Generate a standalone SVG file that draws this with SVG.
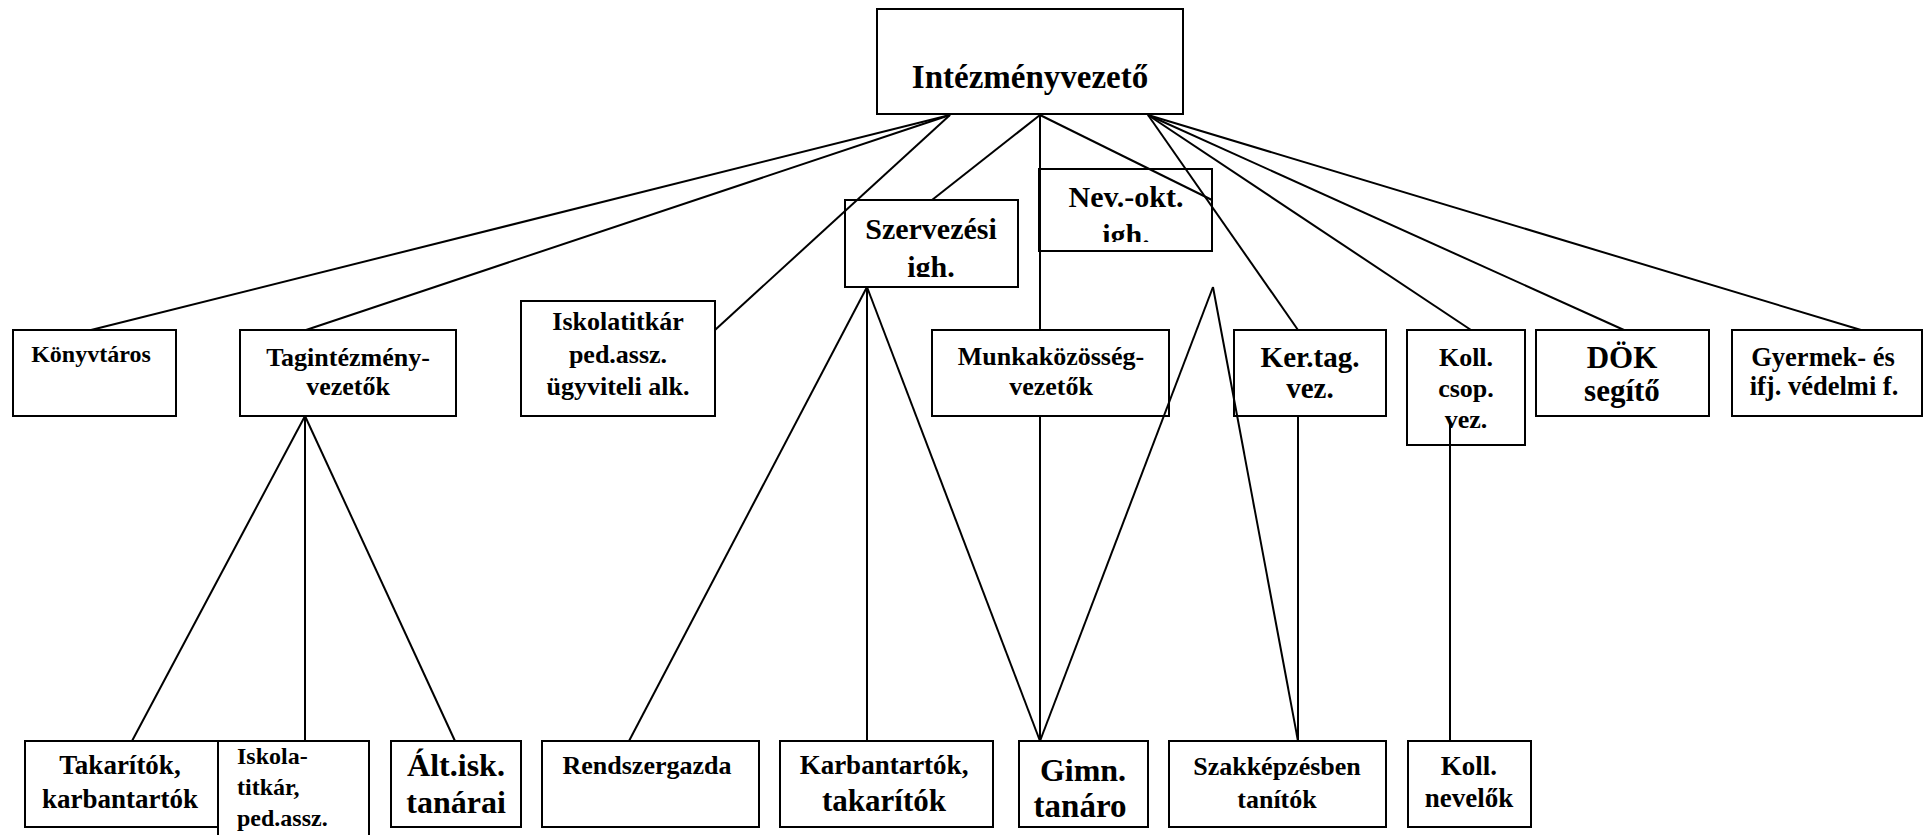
<svg xmlns="http://www.w3.org/2000/svg" width="1927" height="835" viewBox="0 0 1927 835">
<style>
.box{fill:#fff;stroke:#000;stroke-width:2}
.t{font-family:"Liberation Serif","Times New Roman",serif;font-weight:bold;text-anchor:middle;fill:#000}
.l{font-family:"Liberation Serif","Times New Roman",serif;font-weight:bold;text-anchor:start;fill:#000}
#connectors line{stroke:#000;stroke-width:2;fill:none}
</style>
<defs>
<clipPath id="clipSz"><rect x="845" y="200" width="173" height="77"/></clipPath>
<clipPath id="clipNev"><rect x="1039" y="169" width="173" height="73"/></clipPath>
<clipPath id="clipGimn"><rect x="1019" y="741" width="129" height="86"/></clipPath>
</defs>
<rect width="1927" height="835" fill="#fff"/>

<g id="n-intezmenyvezeto"><rect class="box" x="877" y="9" width="306" height="105"/><text class="t" x="1030" y="88" font-size="33">Intézményvezető</text></g>
<g id="n-szervezesi"><rect class="box" x="845" y="200" width="173" height="87"/><g clip-path="url(#clipSz)"><text class="t" x="931" y="239" font-size="30">Szervezési</text><text class="t" x="931" y="277" font-size="30">igh.</text></g></g>
<g id="n-nevokt"><rect class="box" x="1039" y="169" width="173" height="82"/><g clip-path="url(#clipNev)"><text class="t" x="1126" y="207" font-size="30">Nev.-okt.</text><text class="t" x="1126" y="245" font-size="30">igh.</text></g></g>

<g id="n-konyvtaros"><rect class="box" x="13" y="330" width="163" height="86"/><text class="t" x="91" y="362" font-size="24">Könyvtáros</text></g>
<g id="n-tagintezmeny"><rect class="box" x="240" y="330" width="216" height="86"/><text class="t" x="348" y="366" font-size="26">Tagintézmény-</text><text class="t" x="348" y="395" font-size="26">vezetők</text></g>
<g id="n-iskolatitkar"><rect class="box" x="521" y="301" width="194" height="115"/><text class="t" x="618" y="330" font-size="26">Iskolatitkár</text><text class="t" x="618" y="363" font-size="26">ped.assz.</text><text class="t" x="618" y="395" font-size="26">ügyviteli alk.</text></g>
<g id="n-munkakozosseg"><rect class="box" x="932" y="330" width="237" height="86"/><text class="t" x="1051" y="365" font-size="26">Munkaközösség-</text><text class="t" x="1051" y="395" font-size="26">vezetők</text></g>
<g id="n-kertag"><rect class="box" x="1234" y="330" width="152" height="86"/><text class="t" x="1310" y="367" font-size="29">Ker.tag.</text><text class="t" x="1310" y="398" font-size="29">vez.</text></g>
<g id="n-kollcsop"><rect class="box" x="1407" y="330" width="118" height="115"/><text class="t" x="1466" y="366" font-size="26">Koll.</text><text class="t" x="1466" y="397" font-size="26">csop.</text><text class="t" x="1466" y="428" font-size="26">vez.</text></g>
<g id="n-dok"><rect class="box" x="1536" y="330" width="173" height="86"/><text class="t" x="1622" y="368" font-size="31">DÖK</text><text class="t" x="1622" y="401" font-size="31">segítő</text></g>
<g id="n-gyermek"><rect class="box" x="1732" y="330" width="190" height="86"/><text class="t" x="1823" y="366" font-size="26.5">Gyermek- és</text><text class="t" x="1824" y="395" font-size="26.5">ifj. védelmi f.</text></g>

<g id="n-takaritok"><rect class="box" x="25" y="741" width="193" height="86"/><text class="t" x="120" y="774" font-size="27">Takarítók,</text><text class="t" x="120" y="808" font-size="27">karbantartók</text></g>
<g id="n-iskolatitkar2"><rect class="box" x="218" y="741" width="151" height="120"/><text class="l" x="237" y="764" font-size="24">Iskola-</text><text class="l" x="237" y="795" font-size="24">titkár,</text><text class="l" x="237" y="826" font-size="24">ped.assz.</text></g>
<g id="n-altisk"><rect class="box" x="391" y="741" width="130" height="86"/><text class="t" x="456" y="776" font-size="32">Ált.isk.</text><text class="t" x="456" y="813" font-size="32">tanárai</text></g>
<g id="n-rendszergazda"><rect class="box" x="542" y="741" width="217" height="86"/><text class="t" x="647" y="774" font-size="26">Rendszergazda</text></g>
<g id="n-karbantartok"><rect class="box" x="780" y="741" width="213" height="86"/><text class="t" x="884" y="774" font-size="27">Karbantartók,</text><text class="t" x="884" y="811" font-size="31">takarítók</text></g>
<g id="n-gimn"><rect class="box" x="1019" y="741" width="129" height="86"/><g clip-path="url(#clipGimn)"><text class="t" x="1083" y="781" font-size="32">Gimn.</text><text class="t" x="1080" y="817" font-size="33">tanáro</text></g></g>
<g id="n-szakkepzes"><rect class="box" x="1169" y="741" width="217" height="86"/><text class="t" x="1277" y="775" font-size="26">Szakképzésben</text><text class="t" x="1277" y="808" font-size="26">tanítók</text></g>
<g id="n-kollnevelok"><rect class="box" x="1408" y="741" width="123" height="86"/><text class="t" x="1469" y="775" font-size="27">Koll.</text><text class="t" x="1469" y="807" font-size="27">nevelők</text></g>

<g id="connectors">
<line x1="950" y1="115" x2="91" y2="330"/>
<line x1="950" y1="115" x2="306" y2="330"/>
<line x1="950" y1="115" x2="715" y2="330"/>
<line x1="1040" y1="115" x2="932" y2="200"/>
<line x1="1040" y1="115" x2="1040" y2="330"/>
<line x1="1040" y1="115" x2="1212" y2="200"/>
<line x1="1148" y1="115" x2="1298" y2="330"/>
<line x1="1148" y1="115" x2="1471" y2="330"/>
<line x1="1148" y1="115" x2="1624" y2="330"/>
<line x1="1148" y1="115" x2="1861" y2="330"/>
<line x1="305" y1="416" x2="132" y2="741"/>
<line x1="305" y1="416" x2="305" y2="741"/>
<line x1="305" y1="416" x2="455" y2="741"/>
<line x1="867" y1="287" x2="629" y2="741"/>
<line x1="867" y1="287" x2="867" y2="741"/>
<line x1="867" y1="287" x2="1040" y2="741"/>
<line x1="1040" y1="416" x2="1040" y2="741"/>
<line x1="1213" y1="287" x2="1040" y2="741"/>
<line x1="1213" y1="287" x2="1298" y2="741"/>
<line x1="1298" y1="416" x2="1298" y2="741"/>
<line x1="1450" y1="423" x2="1450" y2="741"/>
</g>
</svg>
